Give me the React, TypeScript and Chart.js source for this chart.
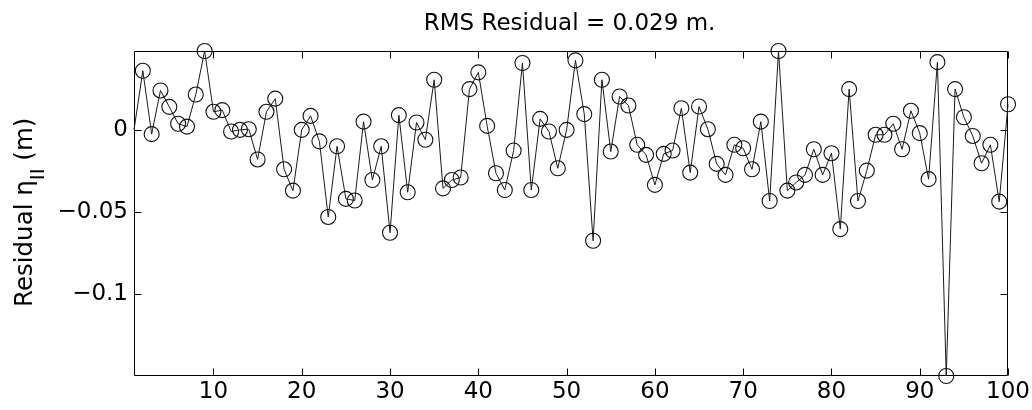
import React, { useEffect, useRef } from "react";
import { Chart, registerables } from "chart.js";

Chart.register(...registerables);

// ---- data ----
const sampleIndex = [
  1, 2, 3, 4, 5, 6, 7, 8, 9, 10,
  11, 12, 13, 14, 15, 16, 17, 18, 19, 20,
  21, 22, 23, 24, 25, 26, 27, 28, 29, 30,
  31, 32, 33, 34, 35, 36, 37, 38, 39, 40,
  41, 42, 43, 44, 45, 46, 47, 48, 49, 50,
  51, 52, 53, 54, 55, 56, 57, 58, 59, 60,
  61, 62, 63, 64, 65, 66, 67, 68, 69, 70,
  71, 72, 73, 74, 75, 76, 77, 78, 79, 80,
  81, 82, 83, 84, 85, 86, 87, 88, 89, 90,
  91, 92, 93, 94, 95, 96, 97, 98, 99, 100,
];

const residuals = [
  0, 0.036, -0.0026, 0.024, 0.014, 0.0037, 0.002, 0.0215, 0.048, 0.011,
  0.012, -0.001, 0, 0.0004, -0.018, 0.011, 0.019, -0.024, -0.037, 0,
  0.0085, -0.007, -0.053, -0.01, -0.042, -0.043, 0.005, -0.0305, -0.01, -0.0626,
  0.009, -0.038, 0.0045, -0.006, 0.0305, -0.0356, -0.0305, -0.029, 0.0248, 0.035,
  0.0024, -0.0264, -0.0366, -0.0126, 0.0407, -0.0366, 0.0067, -0.001, -0.0234, 0,
  0.0423, 0.0096, -0.0675, 0.0305, -0.0132, 0.0203, 0.0148, -0.0091, -0.0152, -0.0335,
  -0.0146, -0.0126, 0.0132, -0.026, 0.0142, 0.0004, -0.0207, -0.0274, -0.0091, -0.0112,
  -0.024, 0.005, -0.0433, 0.048, -0.037, -0.032, -0.0274, -0.0118, -0.0274, -0.0142,
  -0.0604, 0.0248, -0.0433, -0.0248, -0.003, -0.003, 0.0037, -0.0118, 0.0116, -0.002,
  -0.03, 0.0412, -0.1498, 0.0248, 0.0077, -0.0037, -0.0203, -0.0091, -0.0437, 0.0156,
];

const xTickValues = [10, 20, 30, 40, 50, 60, 70, 80, 90, 100];
const xTickLabels = ["10", "20", "30", "40", "50", "60", "70", "80", "90", "100"];
const yTickValues = [0, -0.05, -0.1];
const yTickLabels = ["0", "\u22120.05", "\u22120.1"];

const xMin = 1;
const xMax = 100;
const yMin = -0.1498;
const yMax = 0.048;

const titleText = "RMS Residual = 0.029 m.";
const yLabelMain = "Residual \u03b7";
const yLabelSub = "II";
const yLabelUnit = " (m)";

const FONT = '"DejaVu Sans"';

const framePlugin = {
  id: "frame",
  beforeDatasetsDraw(chart: any) {
    const { ctx, chartArea: a, scales } = chart;
    const L = Math.round(a.left) + 0.5;
    const R = Math.round(a.right) - 0.5;
    const T = Math.round(a.top) + 0.5;
    const B = Math.round(a.bottom) - 0.5;
    const tl = 7;
    ctx.save();
    ctx.strokeStyle = "#000";
    ctx.lineWidth = 1;
    ctx.beginPath();
    ctx.rect(L, T, R - L, B - T);
    for (const t of scales.x.ticks) {
      const px = Math.round(scales.x.getPixelForValue(t.value)) + 0.5;
      ctx.moveTo(px, B);
      ctx.lineTo(px, B - tl);
      ctx.moveTo(px, T);
      ctx.lineTo(px, T + tl);
    }
    for (const t of scales.y.ticks) {
      const py = Math.round(scales.y.getPixelForValue(t.value)) + 0.5;
      ctx.moveTo(L, py);
      ctx.lineTo(L + tl, py);
      ctx.moveTo(R, py);
      ctx.lineTo(R - tl, py);
    }
    ctx.stroke();
    ctx.restore();
  },
};

const textPlugin = {
  id: "texts",
  afterDraw(chart: any) {
    const { ctx, chartArea: a } = chart;
    ctx.save();
    ctx.fillStyle = "#000";
    // title
    ctx.font = `23px ${FONT}`;
    ctx.textAlign = "center";
    ctx.textBaseline = "alphabetic";
    ctx.fillText(titleText, (a.left + a.right) / 2 - 1.5, 30);
    // y label with subscript
    ctx.translate(31.5, 307);
    ctx.rotate(-Math.PI / 2);
    ctx.textAlign = "left";
    const mainFont = `24.5px ${FONT}`;
    const subFont = `20px ${FONT}`;
    let s = 0;
    ctx.font = mainFont;
    ctx.fillText(yLabelMain, s, 0);
    s += ctx.measureText(yLabelMain).width;
    ctx.font = subFont;
    ctx.fillText(yLabelSub, s, 12.5);
    s += ctx.measureText(yLabelSub).width;
    ctx.font = mainFont;
    ctx.fillText(yLabelUnit, s, 0);
    ctx.restore();
  },
};

export default function App() {
  const canvasRef = useRef<HTMLCanvasElement | null>(null);

  useEffect(() => {
    const canvas = canvasRef.current;
    if (!canvas) return;
    const points = sampleIndex.map((x, i) => ({ x, y: residuals[i] }));
    const chart = new Chart(canvas, {
      type: "line",
      data: {
        datasets: [
          {
            data: points,
            borderColor: "#1a1a1a",
            borderWidth: 1,
            tension: 0,
            fill: false,
            clip: false as any,
            pointRadius: (c: any) => (c.dataIndex === 0 ? 0 : 7.5),
            pointBorderColor: "#111",
            pointBorderWidth: 1.1,
            pointBackgroundColor: "rgba(0,0,0,0)",
            pointHoverRadius: 7.5,
          },
        ],
      },
      options: {
        animation: false,
        responsive: false,
        devicePixelRatio: 1,
        events: [],
        layout: { padding: { top: 51, right: 21, left: 0, bottom: 0 } },
        plugins: {
          legend: { display: false },
          title: { display: false },
          tooltip: { enabled: false },
        },
        scales: {
          x: {
            type: "linear",
            min: xMin,
            max: xMax,
            grid: { display: false, drawTicks: false },
            border: { display: false },
            afterFit(scale: any) {
              scale.height = 34;
            },
            afterBuildTicks(scale: any) {
              scale.ticks = xTickValues.map((v) => ({ value: v }));
            },
            ticks: {
              autoSkip: false,
              maxRotation: 0,
              padding: 2,
              color: "#000",
              font: { family: "DejaVu Sans", size: 23 },
              callback: (v: any) => {
                const i = xTickValues.indexOf(Number(v));
                return i >= 0 ? xTickLabels[i] : "";
              },
            },
          },
          y: {
            type: "linear",
            min: yMin,
            max: yMax,
            grid: { display: false, drawTicks: false },
            border: { display: false },
            afterFit(scale: any) {
              scale.width = 134;
            },
            afterBuildTicks(scale: any) {
              scale.ticks = yTickValues.map((v) => ({ value: v }));
            },
            ticks: {
              autoSkip: false,
              padding: 6,
              color: "#000",
              font: { family: "DejaVu Sans", size: 23 },
              callback: (v: any) => {
                const i = yTickValues.findIndex((t) => Math.abs(t - Number(v)) < 1e-9);
                return i >= 0 ? yTickLabels[i] : "";
              },
            },
          },
        },
      },
      plugins: [framePlugin, textPlugin],
    });
    return () => chart.destroy();
  }, []);

  return (
    <div style={{ position: "absolute", left: 0, top: 0, width: 1032, height: 410, background: "#fff" }}>
      <canvas ref={canvasRef} width={1032} height={410} style={{ display: "block" }} />
    </div>
  );
}
